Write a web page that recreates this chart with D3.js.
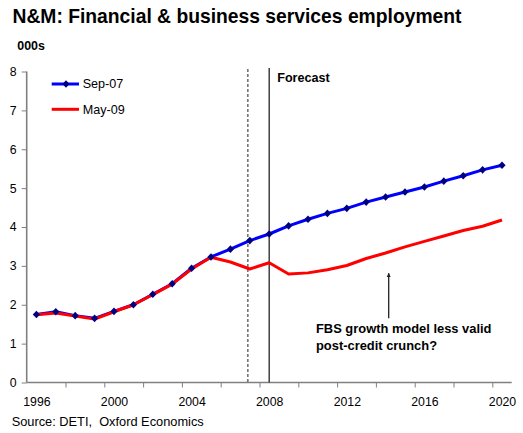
<!DOCTYPE html>
<html>
<head>
<meta charset="utf-8">
<script src="https://cdn.jsdelivr.net/npm/d3@7"></script>
<style>
  html, body { margin: 0; padding: 0; background: #fff; }
  svg { display: block; font-family: "Liberation Sans", Arial, sans-serif; }
</style>
</head>
<body>
<svg id="chart" width="523" height="433"></svg>
<script>
// Financial & business services employment, N&M (thousands)
const years = [1996, 1997, 1998, 1999, 2000, 2001, 2002, 2003, 2004, 2005, 2006, 2007, 2008,
               2009, 2010, 2011, 2012, 2013, 2014, 2015, 2016, 2017, 2018, 2019, 2020];
const sep07 = [1.75, 1.82, 1.72, 1.65, 1.83, 2.00, 2.27, 2.54, 2.94, 3.23, 3.43, 3.65, 3.82,
               4.03, 4.20, 4.35, 4.48, 4.64, 4.77, 4.90, 5.03, 5.18, 5.32, 5.47, 5.59];
const may09 = [1.74, 1.79, 1.71, 1.63, 1.82, 2.00, 2.26, 2.53, 2.92, 3.22, 3.10, 2.92, 3.08,
               2.79, 2.82, 2.90, 3.01, 3.19, 3.33, 3.49, 3.63, 3.77, 3.91, 4.02, 4.18];
const xLabels = [1996, 2000, 2004, 2008, 2012, 2016, 2020];
const yTicks = [0, 1, 2, 3, 4, 5, 6, 7, 8];
const seriesNames = ["Sep-07", "May-09"];
const forecastStart = 2008;
const vintageMark = 2006.9;

const svg = d3.select("#chart");
const plotLeft = 26.7, plotRight = 511.7, plotTop = 71.5, plotBottom = 382.5;

const x = d3.scaleLinear().domain([years[0] - 0.5, years[years.length - 1] + 0.5]).range([plotLeft, plotRight]);
const y = d3.scaleLinear().domain([0, 8]).range([plotBottom, plotTop]);

const axisGrey = "#808080";

// Title
svg.append("text").attr("x", 12.5).attr("y", 22.7)
  .attr("font-size", "19.3px").attr("font-weight", "bold").attr("fill", "#000")
  .text("N&M: Financial & business services employment");

svg.append("text").attr("x", 17.3).attr("y", 50)
  .attr("font-size", "12.4px").attr("font-weight", "bold").attr("fill", "#000")
  .text("000s");

// Y axis
const yAxis = svg.append("g").attr("transform", `translate(${plotLeft},0)`)
  .call(d3.axisLeft(y).tickValues(yTicks).tickSize(5).tickPadding(5).tickFormat(d3.format("d")));
yAxis.select(".domain").attr("stroke", axisGrey).attr("stroke-width", 1.6)
  .attr("d", `M0,${plotTop}V${plotBottom}`);
yAxis.selectAll(".tick line").attr("stroke", axisGrey).attr("stroke-width", 1);
yAxis.selectAll(".tick text").attr("font-size", "12.3px").attr("fill", "#000")
  .attr("font-family", "Liberation Sans, Arial, sans-serif");

// X axis: tick marks between category pairs, labels every fourth year
const tickPos = d3.range(years[0] + 1.5, years[years.length - 1], 2);
const xAxisTicks = svg.append("g").attr("transform", `translate(0,${plotBottom})`)
  .call(d3.axisBottom(x).tickValues(tickPos).tickSize(5).tickFormat(""));
xAxisTicks.select(".domain").attr("stroke", axisGrey).attr("stroke-width", 1.6)
  .attr("d", `M${plotLeft},0H${plotRight}`);
xAxisTicks.selectAll(".tick line").attr("stroke", axisGrey).attr("stroke-width", 1);

const xAxisLabels = svg.append("g").attr("transform", `translate(0,${plotBottom})`)
  .call(d3.axisBottom(x).tickValues(xLabels).tickSize(0).tickPadding(15).tickFormat(d3.format("d")));
xAxisLabels.select(".domain").remove();
xAxisLabels.selectAll(".tick text").attr("font-size", "12.3px").attr("fill", "#000")
  .attr("font-family", "Liberation Sans, Arial, sans-serif");

// Vertical reference lines
svg.append("line").attr("x1", x(vintageMark)).attr("x2", x(vintageMark))
  .attr("y1", 69).attr("y2", plotBottom)
  .attr("stroke", "#555").attr("stroke-width", 1.3).attr("stroke-dasharray", "3,2");
svg.append("line").attr("x1", x(forecastStart)).attr("x2", x(forecastStart))
  .attr("y1", 68).attr("y2", plotBottom)
  .attr("stroke", "#333").attr("stroke-width", 1.4);
svg.append("text").attr("x", x(forecastStart) + 8).attr("y", 81.7)
  .attr("font-size", "12.6px").attr("font-weight", "bold").attr("fill", "#000")
  .text("Forecast");

// Series
const line = d3.line().x((d, i) => x(years[i])).y(d => y(d));
svg.append("path").datum(sep07).attr("d", line)
  .attr("fill", "none").attr("stroke", "#0000ff").attr("stroke-width", 3)
  .attr("stroke-linejoin", "round");
svg.append("path").datum(may09).attr("d", line)
  .attr("fill", "none").attr("stroke", "#ff0000").attr("stroke-width", 3)
  .attr("stroke-linejoin", "round");

const diamond = "M0,-3.8L3.6,0L0,3.8L-3.6,0Z";
svg.append("g").selectAll("path").data(sep07).join("path")
  .attr("d", diamond)
  .attr("transform", (d, i) => `translate(${x(years[i])},${y(d)})`)
  .attr("fill", "#000080");

// Legend
const legend = svg.append("g");
legend.append("line").attr("x1", 51.7).attr("x2", 79).attr("y1", 84).attr("y2", 84)
  .attr("stroke", "#0000ff").attr("stroke-width", 3);
legend.append("path").attr("d", diamond).attr("transform", "translate(66,84)").attr("fill", "#000080");
legend.append("text").attr("x", 82.7).attr("y", 88.4).attr("font-size", "12.6px").attr("fill", "#000")
  .text(seriesNames[0]);
legend.append("line").attr("x1", 51.7).attr("x2", 79).attr("y1", 109.3).attr("y2", 109.3)
  .attr("stroke", "#ff0000").attr("stroke-width", 3);
legend.append("text").attr("x", 82.7).attr("y", 113.6).attr("font-size", "12.6px").attr("fill", "#000")
  .text(seriesNames[1]);

// Annotation with arrow
svg.append("defs").append("marker").attr("id", "arrowhead")
  .attr("viewBox", "0 0 10 10").attr("refX", 9).attr("refY", 5)
  .attr("markerWidth", 4).attr("markerHeight", 5).attr("orient", "auto")
  .attr("markerUnits", "userSpaceOnUse")
  .append("path").attr("d", "M0,0L10,5L0,10Z").attr("fill", "#222");
svg.append("line").attr("x1", 388.7).attr("x2", 388.7).attr("y1", 318.3).attr("y2", 273.3)
  .attr("stroke", "#222").attr("stroke-width", 1.3).attr("marker-end", "url(#arrowhead)");
const note = svg.append("text").attr("font-size", "12.9px").attr("font-weight", "bold").attr("fill", "#000");
note.append("tspan").attr("x", 316).attr("y", 333.3).text("FBS growth model less valid");
note.append("tspan").attr("x", 316).attr("y", 349.5).text("post-credit crunch?");

// Source line (two spaces after the comma are kept)
svg.append("text").attr("x", 11.7).attr("y", 425.7)
  .attr("font-size", "12.8px").attr("fill", "#000")
  .text("Source: DETI,\u00a0 Oxford Economics");
</script>
</body>
</html>
